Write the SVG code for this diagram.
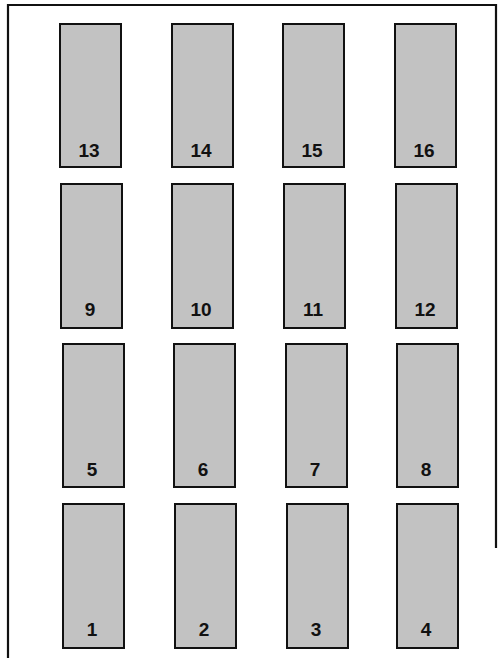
<svg xmlns="http://www.w3.org/2000/svg" width="498" height="658" viewBox="0 0 498 658">
<style>
.box{fill:#c2c2c2;stroke:#111;stroke-width:2}
.lbl{font-family:"Liberation Sans",Arial,sans-serif;font-weight:bold;font-size:19px;fill:#111;text-anchor:middle}
.frame{fill:none;stroke:#111;stroke-width:2.2}
</style>
<rect width="498" height="658" fill="#fff"/>
<path class="frame" d="M8,658 L8,5 L496,5 L496,548"/>
<g id="n13"><rect class="box" x="60" y="24" width="61" height="143"/><text class="lbl" x="89" y="157">13</text></g>
<g id="n14"><rect class="box" x="172" y="24" width="61" height="143"/><text class="lbl" x="201" y="157">14</text></g>
<g id="n15"><rect class="box" x="283" y="24" width="61" height="143"/><text class="lbl" x="312" y="157">15</text></g>
<g id="n16"><rect class="box" x="395" y="24" width="61" height="143"/><text class="lbl" x="424" y="157">16</text></g>
<g id="n9"><rect class="box" x="61" y="184" width="61" height="144"/><text class="lbl" x="90" y="316">9</text></g>
<g id="n10"><rect class="box" x="172" y="184" width="61" height="144"/><text class="lbl" x="201" y="316">10</text></g>
<g id="n11"><rect class="box" x="284" y="184" width="61" height="144"/><text class="lbl" x="313" y="316">11</text></g>
<g id="n12"><rect class="box" x="396" y="184" width="61" height="144"/><text class="lbl" x="425" y="316">12</text></g>
<g id="n5"><rect class="box" x="63" y="344" width="61" height="143"/><text class="lbl" x="92" y="476">5</text></g>
<g id="n6"><rect class="box" x="174" y="344" width="61" height="143"/><text class="lbl" x="203" y="476">6</text></g>
<g id="n7"><rect class="box" x="286" y="344" width="61" height="143"/><text class="lbl" x="315" y="476">7</text></g>
<g id="n8"><rect class="box" x="397" y="344" width="61" height="143"/><text class="lbl" x="426" y="476">8</text></g>
<g id="n1"><rect class="box" x="63" y="504" width="61" height="144"/><text class="lbl" x="92" y="636">1</text></g>
<g id="n2"><rect class="box" x="175" y="504" width="61" height="144"/><text class="lbl" x="204" y="636">2</text></g>
<g id="n3"><rect class="box" x="287" y="504" width="61" height="144"/><text class="lbl" x="316" y="636">3</text></g>
<g id="n4"><rect class="box" x="397" y="504" width="61" height="144"/><text class="lbl" x="426" y="636">4</text></g>
<g id="connectors"></g>
</svg>
